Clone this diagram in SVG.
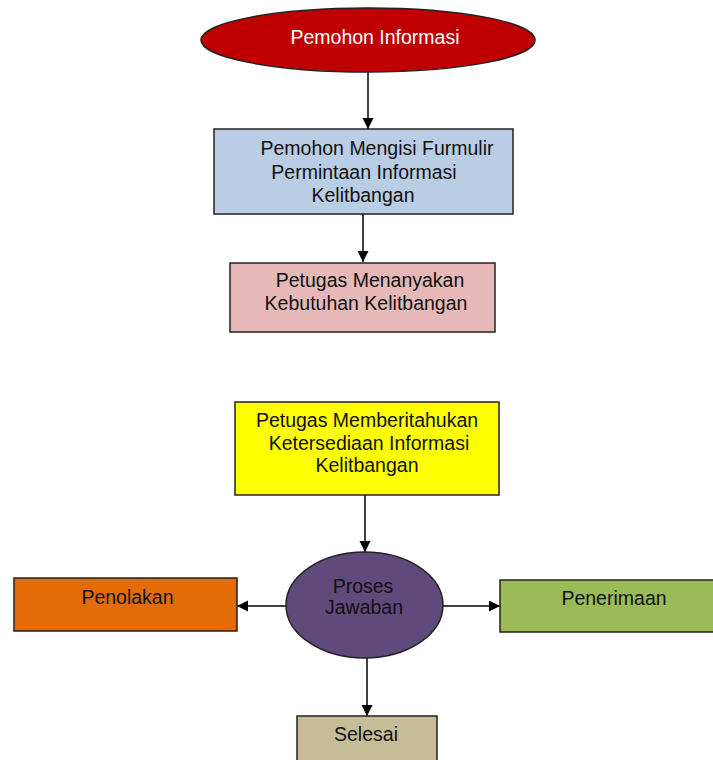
<svg xmlns="http://www.w3.org/2000/svg" width="713" height="760" viewBox="0 0 713 760">
<style>
  .t { font-family: "Liberation Sans", Arial, sans-serif; font-size: 19.5px; fill: #111111; text-anchor: middle; }
  .w { fill: #ffffff; }
  .box { stroke: #222; stroke-width: 1.5; }
  .con { stroke: #000; stroke-width: 1.5; fill: none; marker-end: url(#ah); }
</style>
<defs>
  <marker id="ah" markerUnits="userSpaceOnUse" markerWidth="12" markerHeight="12" refX="11" refY="5.5" orient="auto">
    <path d="M0,0 L11,5.5 L0,11 Z" fill="#000"/>
  </marker>
</defs>
<rect width="713" height="760" fill="#ffffff"/>

<g id="connectors">
  <line class="con" x1="368" y1="72" x2="368" y2="129"/>
  <line class="con" x1="363" y1="214" x2="363" y2="262"/>
  <line class="con" x1="365" y1="495" x2="365" y2="552"/>
  <line class="con" x1="286" y1="606" x2="237" y2="606"/>
  <line class="con" x1="443" y1="606" x2="500" y2="606"/>
  <line class="con" x1="367" y1="658" x2="367" y2="716"/>
</g>

<g id="pemohon-informasi">
  <ellipse cx="368" cy="40" rx="167" ry="32" fill="#c00000" stroke="#222" stroke-width="1.5"/>
  <text class="t w" x="375" y="44">Pemohon Informasi</text>
</g>

<g id="mengisi-formulir">
  <rect class="box" x="214" y="129" width="299" height="85" fill="#b9cde5"/>
  <text class="t" x="377" y="155">Pemohon Mengisi Furmulir</text>
  <text class="t" x="364" y="179">Permintaan Informasi</text>
  <text class="t" x="363" y="202">Kelitbangan</text>
</g>

<g id="menanyakan-kebutuhan">
  <rect class="box" x="230" y="263" width="265" height="69" fill="#e6b9b8"/>
  <text class="t" x="370" y="287">Petugas Menanyakan</text>
  <text class="t" x="366" y="310">Kebutuhan Kelitbangan</text>
</g>

<g id="memberitahukan">
  <rect class="box" x="235" y="402" width="264" height="93" fill="#ffff00"/>
  <text class="t" x="367" y="427">Petugas Memberitahukan</text>
  <text class="t" x="369" y="450">Ketersediaan Informasi</text>
  <text class="t" x="367" y="472">Kelitbangan</text>
</g>

<g id="proses-jawaban">
  <ellipse cx="364.5" cy="605" rx="78.5" ry="53" fill="#604a7b" stroke="#222" stroke-width="1.5"/>
  <text class="t" x="363" y="593">Proses</text>
  <text class="t" x="364" y="614">Jawaban</text>
</g>

<g id="penolakan">
  <rect class="box" x="14" y="578" width="223" height="53" fill="#e36c09"/>
  <text class="t" x="127.5" y="604">Penolakan</text>
</g>

<g id="penerimaan">
  <rect class="box" x="500" y="580" width="220" height="52" fill="#9bbb59"/>
  <text class="t" x="614" y="605">Penerimaan</text>
</g>

<g id="selesai">
  <rect class="box" x="297" y="716" width="140" height="60" fill="#c4bd97"/>
  <text class="t" x="366" y="741">Selesai</text>
</g>
</svg>
